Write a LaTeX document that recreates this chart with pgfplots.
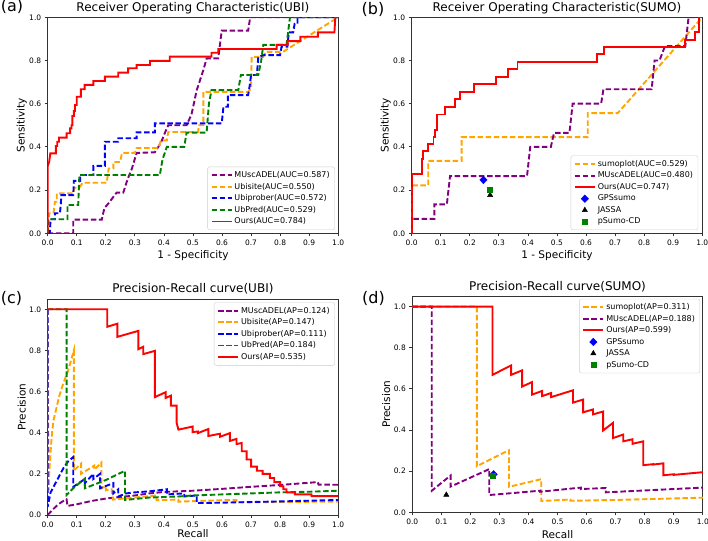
\documentclass[border=0pt]{standalone}
\usepackage{fontspec}
\setmainfont{DejaVu Sans}
\usepackage{pgfplots}
\pgfplotsset{compat=1.18}

\definecolor{mpurple}{HTML}{800080}
\definecolor{morange}{HTML}{FFA500}
\definecolor{mblue}{HTML}{0000FF}
\definecolor{mgreen}{HTML}{008000}
\definecolor{mred}{HTML}{FF0000}

\pgfplotsset{
  panel/.style={
    scale only axis, width=290.5pt, height=216pt,
    xmin=0, xmax=1, ymin=0,
    xtick={0,0.1,0.2,0.3,0.4,0.5,0.6,0.7,0.8,0.9,1},
    ytick={0,0.2,0.4,0.6,0.8,1},
    tick align=outside, tick pos=left, major tick length=3pt,
    tick style={black!80, line width=0.8pt},
    axis line style={black!80, line width=0.8pt},
    scaled ticks=false,
    xticklabel={\pgfmathprintnumber[fixed,fixed zerofill,precision=1,assume math mode=true]{\tick}},
    yticklabel={\pgfmathprintnumber[fixed,fixed zerofill,precision=1,assume math mode=true]{\tick}},
    tick label style={font=\fontsize{7.5}{9}\selectfont},
    label style={font=\fontsize{10.5}{12}\selectfont},
    title style={font=\fontsize{12}{14}\selectfont, at={(0.5,1)}, anchor=base},
    xlabel style={at={(axis description cs:0.5,-0.102)}, anchor=center},
    ylabel style={at={(axis description cs:-0.0895,0.5)}, anchor=center},
    legend style={font=\fontsize{8}{9.5}\selectfont, draw=black!20, rounded corners=2pt,
      fill=white, inner xsep=3pt, inner ysep=2.5pt, row sep=0pt},
    legend cell align=left,
    legend image code/.code={\draw[##1] (0pt,0pt) -- (20pt,0pt); \draw[##1] (0pt,0pt) -- (20pt,0pt);},
  },
  sol/.style={line width=1.9pt},
  dsh/.style={line width=1.9pt, dash pattern=on 5.5pt off 2.6pt},
  marklegend/.style={legend image code/.code={\draw[##1] plot coordinates {(10pt,0pt)};}},
}

\begin{document}
\begin{tikzpicture}

% (a) ROC UBI
\begin{axis}[panel, at={(47.7pt,306.7pt)}, anchor=south west, ymax=1,
  title={Receiver Operating Characteristic(UBI)}, xlabel={1 - Specificity}, ylabel={Sensitivity},
  legend style={at={(1,0)}, anchor=south east, xshift=-3.3pt, yshift=3.3pt}]
\addplot[mpurple, dsh] coordinates {(0,0)(0.088,0)(0.088,0.063)(0.186,0.063)(0.195,0.116)(0.21,0.14)(0.237,0.188)(0.26,0.188)(0.275,0.25)(0.29,0.3)(0.306,0.372)(0.369,0.375)(0.39,0.42)(0.405,0.47)(0.415,0.50)(0.478,0.50)(0.495,0.55)(0.513,0.663)(0.536,0.756)(0.547,0.81)(0.587,0.81)(0.599,0.938)(0.69,0.938)(0.697,1.0)(1.0,1.0)};
\addlegendentry{MUscADEL(AUC=0.587)}
\addplot[morange, dsh] coordinates {(0,0)(0.005,0.093)(0.02,0.093)(0.025,0.146)(0.031,0.146)(0.031,0.185)(0.088,0.185)(0.092,0.21)(0.11,0.213)(0.12,0.234)(0.203,0.234)(0.21,0.30)(0.226,0.30)(0.226,0.33)(0.249,0.33)(0.256,0.372)(0.30,0.372)(0.306,0.395)(0.38,0.395)(0.39,0.43)(0.41,0.43)(0.415,0.469)(0.518,0.469)(0.52,0.5)(0.536,0.5)(0.536,0.655)(0.69,0.655)(0.7,0.67)(0.702,0.817)(0.742,0.817)(0.75,0.84)(0.81,0.84)(0.994,0.995)(1.0,1.0)};
\addlegendentry{Ubisite(AUC=0.550)}
\addplot[mblue, dsh] coordinates {(0,0)(0.007,0)(0.01,0.065)(0.025,0.065)(0.025,0.093)(0.042,0.093)(0.045,0.131)(0.047,0.177)(0.088,0.177)(0.09,0.243)(0.112,0.243)(0.112,0.27)(0.157,0.27)(0.157,0.312)(0.197,0.312)(0.197,0.424)(0.243,0.424)(0.243,0.44)(0.306,0.44)(0.306,0.467)(0.369,0.467)(0.369,0.509)(0.599,0.509)(0.605,0.586)(0.62,0.586)(0.62,0.64)(0.69,0.64)(0.695,0.68)(0.70,0.733)(0.72,0.733)(0.725,0.817)(0.745,0.825)(0.8,0.825)(0.805,0.864)(0.825,0.864)(0.83,0.93)(0.845,0.93)(0.85,0.97)(0.86,0.97)(0.86,1.0)(1.0,1.0)};
\addlegendentry{Ubiprober(AUC=0.572)}
\addplot[mgreen, dsh] coordinates {(0,0)(0.002,0.065)(0.068,0.065)(0.068,0.131)(0.105,0.131)(0.109,0.27)(0.386,0.27)(0.395,0.34)(0.41,0.40)(0.47,0.40)(0.478,0.466)(0.547,0.466)(0.555,0.6)(0.564,0.663)(0.656,0.663)(0.665,0.733)(0.725,0.733)(0.735,0.80)(0.742,0.872)(0.822,0.872)(0.834,1.0)(1.0,1.0)};
\addlegendentry{UbPred(AUC=0.529)}
\addplot[mred, sol] coordinates {(0,0)(0,0.31)(0.005,0.33)(0.009,0.37)(0.028,0.37)(0.028,0.404)(0.033,0.404)(0.033,0.424)(0.039,0.424)(0.039,0.443)(0.065,0.443)(0.065,0.463)(0.077,0.463)(0.077,0.486)(0.082,0.486)(0.082,0.5)(0.085,0.5)(0.085,0.543)(0.09,0.543)(0.09,0.567)(0.094,0.567)(0.094,0.594)(0.1,0.594)(0.1,0.632)(0.114,0.632)(0.114,0.667)(0.127,0.667)(0.127,0.687)(0.157,0.687)(0.157,0.705)(0.197,0.705)(0.197,0.725)(0.243,0.725)(0.243,0.744)(0.277,0.744)(0.277,0.764)(0.306,0.764)(0.306,0.779)(0.352,0.779)(0.352,0.798)(0.42,0.798)(0.42,0.818)(0.564,0.818)(0.564,0.836)(0.587,0.836)(0.587,0.853)(0.788,0.853)(0.788,0.872)(0.826,0.872)(0.826,0.89)(0.87,0.89)(0.87,0.91)(0.93,0.91)(0.93,0.93)(0.987,0.93)(0.99,1.0)(1.0,1.0)};
\addlegendentry{Ours(AUC=0.784)}
\end{axis}

% (b) ROC SUMO
\begin{axis}[panel, at={(411.7pt,306.7pt)}, anchor=south west, ymax=1,
  title={Receiver Operating Characteristic(SUMO)}, xlabel={1 - Specificity}, ylabel={Sensitivity},
  legend style={at={(1,0)}, anchor=south east, xshift=-4pt, yshift=3.3pt}]
\addplot[morange, dsh] coordinates {(0,0)(0,0.222)(0.057,0.222)(0.057,0.335)(0.172,0.335)(0.172,0.445)(0.606,0.445)(0.606,0.556)(0.709,0.556)(1.0,1.0)};
\addlegendentry{sumoplot(AUC=0.529)}
\addplot[mpurple, dsh] coordinates {(0,0)(0,0.067)(0.078,0.067)(0.078,0.134)(0.121,0.134)(0.132,0.265)(0.397,0.265)(0.408,0.40)(0.479,0.40)(0.49,0.465)(0.543,0.465)(0.554,0.60)(0.652,0.60)(0.66,0.667)(0.826,0.667)(0.836,0.80)(0.853,0.80)(0.872,0.867)(0.942,0.867)(0.953,1.0)(1.0,1.0)};
\addlegendentry{MUscADEL(AUC=0.480)}
\addplot[mred, sol] coordinates {(0,0)(0,0.275)(0.034,0.275)(0.034,0.345)(0.04,0.345)(0.04,0.38)(0.057,0.38)(0.057,0.415)(0.075,0.415)(0.075,0.445)(0.08,0.445)(0.08,0.48)(0.088,0.48)(0.088,0.55)(0.115,0.55)(0.115,0.585)(0.149,0.585)(0.149,0.62)(0.167,0.62)(0.167,0.655)(0.215,0.655)(0.215,0.69)(0.291,0.69)(0.291,0.725)(0.33,0.725)(0.33,0.76)(0.364,0.76)(0.364,0.794)(0.638,0.794)(0.638,0.83)(0.661,0.83)(0.661,0.861)(0.942,0.861)(0.942,0.895)(0.976,0.895)(0.976,0.93)(0.99,0.93)(0.99,1.0)(1.0,1.0)};
\addlegendentry{Ours(AUC=0.747)}
\addplot[only marks, mark=diamond*, mark size=3.8pt, mark options={xscale=1.3}, color=mblue, marklegend] coordinates {(0.247,0.247)};
\addlegendentry{GPSsumo}
\addplot[only marks, mark=triangle*, mark size=3pt, color=black, marklegend] coordinates {(0.27,0.177)};
\addlegendentry{JASSA}
\addplot[only marks, mark=square*, mark size=2.4pt, color=mgreen, marklegend] coordinates {(0.268,0.2)};
\addlegendentry{pSumo-CD}
\end{axis}

% (c) PR UBI
\begin{axis}[panel, at={(47.7pt,25pt)}, anchor=south west, ymax=1.05,
  title={Precision-Recall curve(UBI)}, xlabel={Recall}, ylabel={Precision},
  xlabel style={at={(axis description cs:0.5,-0.088)}},
  legend style={at={(1,1)}, anchor=north east, xshift=-3.3pt, yshift=-3.3pt}]
\addplot[mpurple, dsh] coordinates {(0,0)(0.01,0.015)(0.02,0.03)(0.035,0.05)(0.05,0.065)(0.065,0.076)(0.068,0.044)(0.1,0.052)(0.15,0.068)(0.2,0.08)(0.3,0.095)(0.35,0.105)(0.4,0.112)(0.5,0.118)(0.6,0.127)(0.7,0.137)(0.8,0.146)(0.93,0.16)(0.932,0.148)(1.0,0.147)};
\addlegendentry{MUscADEL(AP=0.124)}
\addplot[morange, dsh] coordinates {(0,1)(0.003,0.12)(0.006,0.22)(0.01,0.31)(0.015,0.4)(0.02,0.46)(0.03,0.52)(0.04,0.58)(0.055,0.645)(0.07,0.70)(0.09,0.80)(0.09,0.215)(0.115,0.25)(0.115,0.2)(0.16,0.24)(0.16,0.22)(0.185,0.255)(0.185,0.13)(0.2,0.14)(0.2,0.12)(0.22,0.125)(0.225,0.075)(0.3,0.085)(0.375,0.095)(0.375,0.072)(0.45,0.075)(0.45,0.065)(0.6,0.072)(0.65,0.072)(0.65,0.062)(1.0,0.065)};
\addlegendentry{Ubisite(AP=0.147)}
\addplot[mblue, dsh] coordinates {(0,1)(0,0.04)(0.01,0.11)(0.025,0.15)(0.04,0.19)(0.055,0.23)(0.07,0.26)(0.088,0.282)(0.088,0.137)(0.128,0.175)(0.128,0.155)(0.157,0.2)(0.157,0.175)(0.18,0.2)(0.18,0.13)(0.226,0.155)(0.226,0.105)(0.243,0.125)(0.243,0.09)(0.27,0.105)(0.3,0.11)(0.35,0.115)(0.41,0.125)(0.41,0.1)(0.47,0.105)(0.47,0.09)(0.513,0.095)(0.513,0.058)(0.6,0.06)(0.8,0.066)(1.0,0.073)};
\addlegendentry{Ubiprober(AP=0.111)}
\addplot[mgreen, dsh] coordinates {(0,1)(0.065,1)(0.065,0.097)(0.088,0.13)(0.128,0.177)(0.128,0.13)(0.2,0.17)(0.266,0.215)(0.266,0.073)(0.35,0.085)(0.45,0.09)(0.5,0.095)(0.6,0.1)(0.7,0.105)(0.8,0.11)(0.9,0.113)(1.0,0.118)};
\addlegendentry{UbPred(AP=0.184)}
\addplot[mred, sol] coordinates {(0,1)(0.205,1)(0.205,0.915)(0.24,0.93)(0.24,0.866)(0.312,0.895)(0.312,0.806)(0.329,0.818)(0.329,0.782)(0.369,0.798)(0.369,0.573)(0.406,0.597)(0.406,0.569)(0.424,0.58)(0.424,0.532)(0.444,0.532)(0.444,0.447)(0.45,0.415)(0.499,0.43)(0.499,0.403)(0.517,0.406)(0.517,0.398)(0.553,0.418)(0.553,0.384)(0.593,0.395)(0.593,0.38)(0.627,0.398)(0.627,0.36)(0.65,0.37)(0.65,0.345)(0.668,0.35)(0.668,0.31)(0.685,0.31)(0.685,0.27)(0.70,0.27)(0.70,0.235)(0.72,0.235)(0.72,0.215)(0.74,0.215)(0.74,0.2)(0.765,0.2)(0.765,0.18)(0.78,0.18)(0.78,0.16)(0.80,0.16)(0.80,0.14)(0.811,0.14)(0.811,0.125)(0.822,0.125)(0.822,0.11)(0.851,0.11)(0.851,0.1)(0.908,0.1)(0.908,0.092)(1.0,0.092)};
\addlegendentry{Ours(AP=0.535)}
\end{axis}

% (d) PR SUMO
\begin{axis}[panel, at={(412.3pt,27.7pt)}, anchor=south west, ymax=1.05,
  title={Precision-Recall curve(SUMO)}, xlabel={Recall}, ylabel={Precision},
  legend style={at={(1,1)}, anchor=north east, xshift=-2.7pt, yshift=-2.5pt}]
\addplot[morange, dsh] coordinates {(0,1)(0.222,1)(0.222,0.224)(0.333,0.302)(0.333,0.124)(0.444,0.161)(0.444,0.055)(0.544,0.062)(0.544,0.056)(0.7,0.06)(1.0,0.071)};
\addlegendentry{sumoplot(AP=0.311)}
\addplot[mpurple, dsh] coordinates {(0,1)(0.067,1)(0.067,0.105)(0.132,0.179)(0.132,0.125)(0.265,0.21)(0.265,0.084)(0.333,0.092)(0.44,0.105)(0.44,0.1)(0.58,0.12)(0.58,0.113)(0.666,0.118)(0.666,0.097)(1.0,0.12)};
\addlegendentry{MUscADEL(AP=0.188)}
\addplot[mred, sol] coordinates {(0,1)(0.276,1)(0.276,0.668)(0.34,0.714)(0.34,0.668)(0.378,0.69)(0.378,0.611)(0.412,0.633)(0.412,0.572)(0.447,0.59)(0.447,0.565)(0.478,0.58)(0.478,0.56)(0.553,0.593)(0.553,0.533)(0.588,0.548)(0.588,0.486)(0.622,0.50)(0.622,0.476)(0.657,0.49)(0.657,0.398)(0.691,0.435)(0.691,0.361)(0.726,0.378)(0.726,0.345)(0.758,0.355)(0.758,0.333)(0.795,0.345)(0.795,0.229)(0.829,0.234)(0.829,0.232)(0.864,0.238)(0.864,0.18)(0.9,0.185)(0.9,0.182)(1.0,0.195)};
\addlegendentry{Ours(AP=0.599)}
\addplot[only marks, mark=diamond*, mark size=3.8pt, mark options={xscale=1.3}, color=mblue, marklegend] coordinates {(0.28,0.185)};
\addlegendentry{GPSsumo}
\addplot[only marks, mark=triangle*, mark size=3pt, color=black, marklegend] coordinates {(0.117,0.085)};
\addlegendentry{JASSA}
\addplot[only marks, mark=square*, mark size=2.4pt, color=mgreen, marklegend] coordinates {(0.276,0.176)};
\addlegendentry{pSumo-CD}
\end{axis}

\node[font=\fontsize{16}{18}\selectfont, anchor=base] at (12pt,528.3pt) {(a)};
\node[font=\fontsize{16}{18}\selectfont, anchor=base] at (373pt,525pt) {(b)};
\node[font=\fontsize{16}{18}\selectfont, anchor=base] at (11.5pt,236.7pt) {(c)};
\node[font=\fontsize{16}{18}\selectfont, anchor=base] at (373.5pt,236.7pt) {(d)};

\pgfresetboundingbox
\path[use as bounding box] (0,0) rectangle (708pt,540pt);
\end{tikzpicture}
\end{document}
